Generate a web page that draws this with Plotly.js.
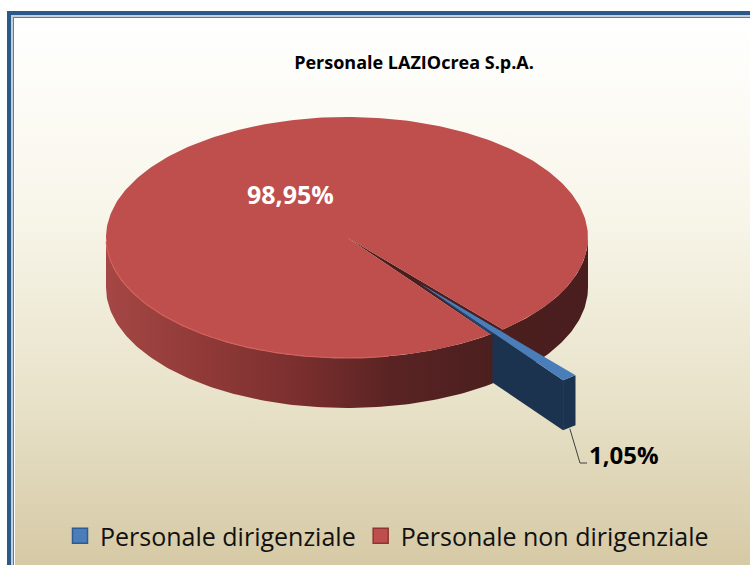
<!DOCTYPE html>
<html>
<head>
<meta charset="utf-8">
<script src="https://cdn.plot.ly/plotly-3.0.1.min.js"></script>
<style>html,body{margin:0;padding:0;background:#fff;overflow:hidden}#chart{width:750px;height:565px}</style>
</head>
<body>
<div id="chart"></div>
<script>
const categories = ["Personale dirigenziale", "Personale non dirigenziale"];
const shares = [1.05, 98.95];
const chartTitle = "Personale LAZIOcrea S.p.A.";

const FONT = "Open Sans, Noto Sans, sans-serif";
const cx = 347, cy = 237.5, rx = 241, ry = 120.5, depth = 50;
const startDeg = 49.7, pull = 0.485, sweepBlue = shares[0] * 3.6;
const rad = d => d * Math.PI / 180;
const rimX = (d, ox = 0) => cx + ox + rx * Math.cos(rad(d));
const rimY = (d, oy = 0) => cy + oy + ry * Math.sin(rad(d));
function arc(a, b, ox = 0, oy = 0, n = 180) {
  const xs = [], ys = [];
  for (let i = 0; i <= n; i++) {
    const d = a + (b - a) * i / n;
    xs.push(rimX(d, ox)); ys.push(rimY(d, oy));
  }
  return [xs, ys];
}
const poly = (xs, ys, color, extra = {}) => Object.assign({
  type: "scatter", mode: "lines", x: xs, y: ys, fill: "toself", fillcolor: color,
  line: {width: 0, color: color}, showlegend: false, hoverinfo: "skip"
}, extra);

const endDeg = startDeg + sweepBlue;
const midDeg = startDeg + sweepBlue / 2;
const ox = pull * rx * Math.cos(rad(midDeg));
const oy = pull * ry * Math.sin(rad(midDeg));
const apexX = cx + ox, apexY = cy + oy;
const traces = [];

// background
traces.push(poly([15, 750, 750, 15, 15], [19, 19, 565, 565, 19], "#f0ead6", {
  fillgradient: {type: "vertical", start: 19, stop: 565,
    colorscale: [[0, "#ffffff"], [0.35, "#f8f6ea"], [0.7, "#e8e2c9"], [1, "#d6c9a5"]]}
}));

// red side wall
const [wx, wy] = arc(0, 180);
traces.push(poly(wx.concat(wx.slice().reverse()),
  wy.concat(wy.slice().reverse().map(v => v + depth)), "#6b2b2a", {
  fillgradient: {type: "horizontal", start: cx - rx, stop: cx + rx,
    colorscale: [[0, "#a54744"], [0.2, "#903a38"], [0.4, "#7a2f2e"], [0.59, "#5a2323"], [0.8, "#4c1f1f"], [1, "#4a1e1e"]]}
}));

// dark gap behind the pulled slice
const [gx, gy] = arc(startDeg, endDeg, 0, 0, 8);
traces.push(poly([cx].concat(gx, [cx]), [cy].concat(gy, [cy]), "#4a1e1e"));

// red top
const [tx, ty] = arc(endDeg, startDeg + 360, 0, 0, 360);
traces.push(poly([cx].concat(tx, [cx]), [cy].concat(ty, [cy]), "#be4f4c"));

// rim highlight
const [hx, hy] = arc(80, 178);
traces.push({type: "scatter", mode: "lines", x: hx, y: hy, line: {color: "#d4605c", width: 1.2},
  showlegend: false, hoverinfo: "skip"});

// blue slice
const [bx, by] = arc(startDeg, endDeg, ox, oy, 8);
const innerX = bx[bx.length - 1], innerY = by[by.length - 1];
const cutX = rimX(endDeg) + 2;
const cutY = apexY + (innerY - apexY) * (cutX - apexX) / (innerX - apexX);
// cut face seen inside the gap
traces.push(poly([apexX, cutX, rimX(endDeg), apexX], [apexY, cutY, rimY(endDeg), apexY], "#1f4570"));
traces.push(poly([cutX, innerX, innerX, cutX, cutX],
  [cutY, innerY, innerY + depth, cutY + depth, cutY], "#1c3350"));
traces.push(poly(bx.concat(bx.slice().reverse()),
  by.concat(by.slice().reverse().map(v => v + depth)), "#1c3350"));
traces.push(poly([apexX].concat(bx, [apexX]), [apexY].concat(by, [apexY]), "#4a7ebb"));

// leader line
traces.push({type: "scatter", mode: "lines",
  x: [bx[4] + 0.5, 580, 587], y: [by[4] + depth + 1, 463, 463],
  line: {color: "#404040", width: 1}, showlegend: false, hoverinfo: "skip"});

// legend entries
const legendColors = ["#4a7ebb", "#be4f4c"];
const legendEdges = ["#2f5b92", "#8f3533"];
categories.forEach((name, i) => traces.push({
  type: "scatter", mode: "markers", x: [-100], y: [-100], name: name,
  marker: {symbol: "square", size: 15, color: legendColors[i], line: {color: legendEdges[i], width: 1.5}},
  hoverinfo: "skip"
}));

const pct = v => v.toFixed(2).replace(".", ",") + "%";
const layout = {
  width: 750, height: 565,
  margin: {l: 0, r: 0, t: 0, b: 0},
  paper_bgcolor: "#ffffff", plot_bgcolor: "rgba(0,0,0,0)",
  xaxis: {range: [0, 750], visible: false, fixedrange: true},
  yaxis: {range: [565, 0], visible: false, fixedrange: true},
  showlegend: true,
  legend: {orientation: "h", x: 60 / 750, xanchor: "left", y: 1 - 536 / 565, yanchor: "middle",
    bgcolor: "rgba(0,0,0,0)", borderwidth: 0, font: {family: FONT, size: 25, color: "#111111"},
    itemwidth: 30, tracegroupgap: 0},
  title: {text: "<b>" + chartTitle + "</b>", x: 414 / 750, xanchor: "center", y: 1 - 63 / 565, yanchor: "middle",
    font: {family: FONT, size: 18, color: "#000000"}},
  annotations: [
    {x: 290, y: 194, xref: "x", yref: "y", showarrow: false, text: "<b>" + pct(shares[1]) + "</b>",
      font: {family: FONT, size: 25, color: "#ffffff"}},
    {x: 624, y: 454, xref: "x", yref: "y", showarrow: false, text: "<b>" + pct(shares[0]) + "</b>",
      font: {family: FONT, size: 24, color: "#000000"}}
  ],
  shapes: [
    {type: "rect", xref: "x", yref: "y", x0: 7, x1: 751, y0: 11, y1: 566, fillcolor: "#2a5a8a", line: {width: 0}, layer: "below"},
    {type: "rect", xref: "x", yref: "y", x0: 11, x1: 751, y0: 15, y1: 566, fillcolor: "#c3d0da", line: {width: 0}, layer: "below"},
    {type: "rect", xref: "x", yref: "y", x0: 13, x1: 751, y0: 17, y1: 566, fillcolor: "#5f7d99", line: {width: 0}, layer: "below"},
    {type: "rect", xref: "x", yref: "y", x0: 14, x1: 751, y0: 18, y1: 566, fillcolor: "#ffffff", line: {width: 0}, layer: "below"}
  ]
};
Plotly.newPlot("chart", traces, layout, {displayModeBar: false, staticPlot: true});
</script>
</body>
</html>
